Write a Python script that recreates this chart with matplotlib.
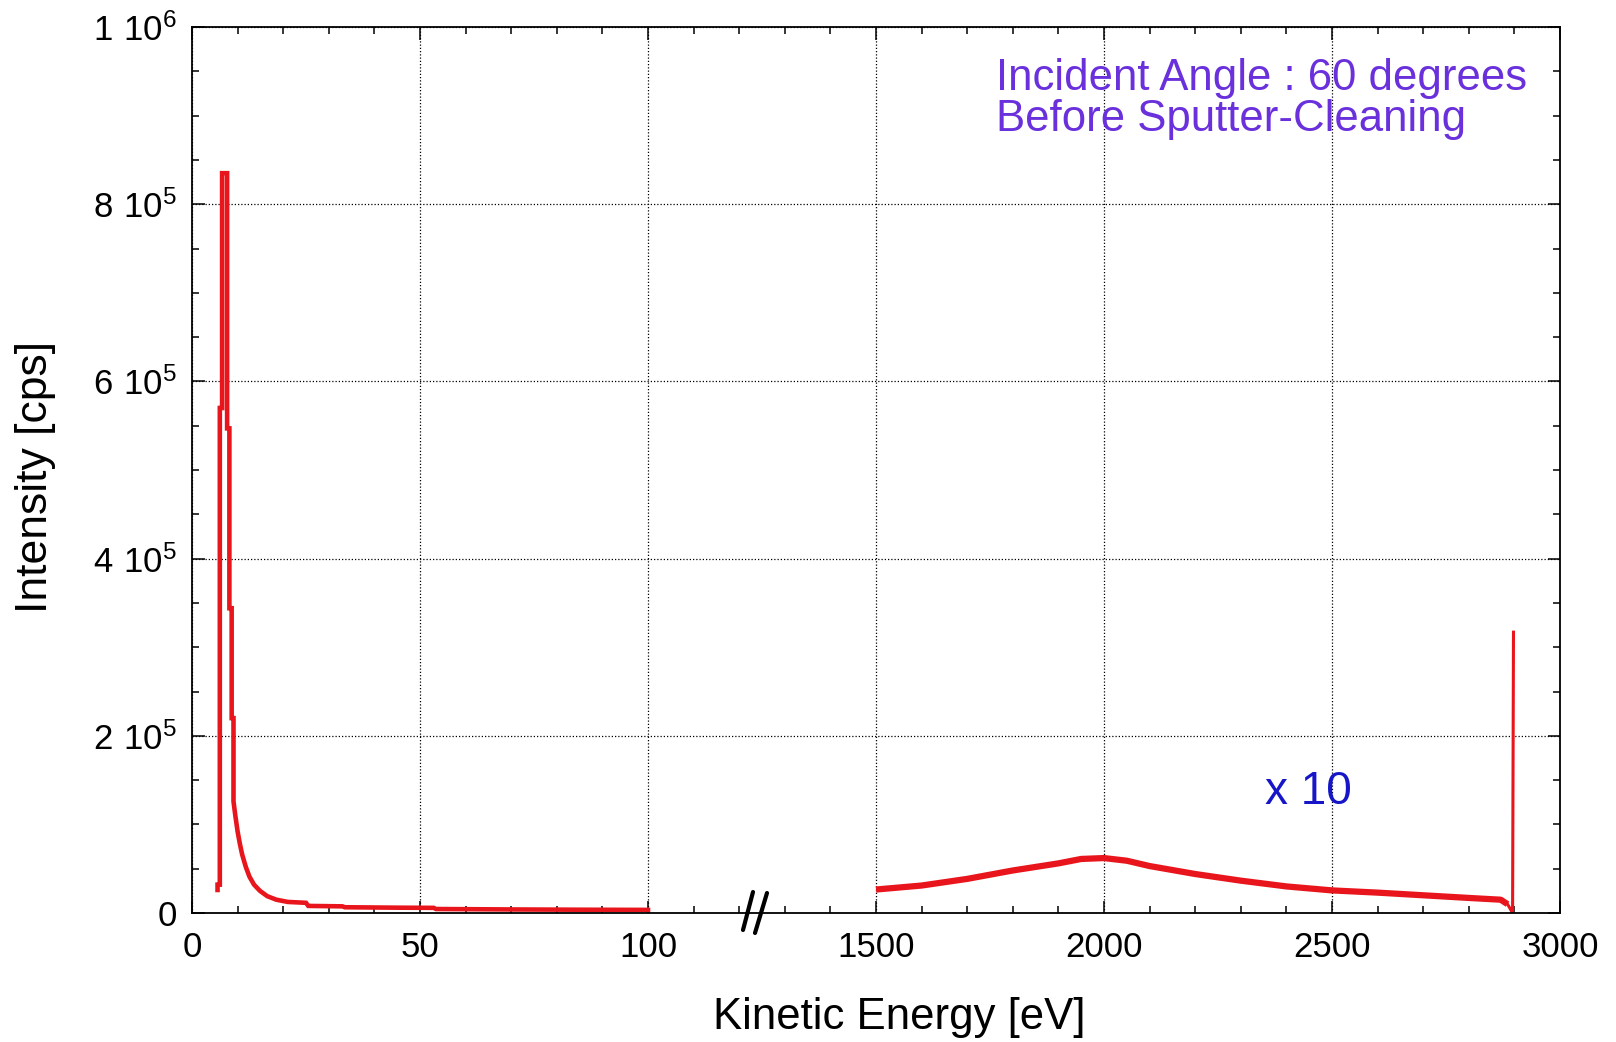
import numpy as np
import matplotlib
matplotlib.use("Agg")
import matplotlib.pyplot as plt
from matplotlib.ticker import FixedLocator, FixedFormatter

# low energy part (secondary electron peak), eV / cps
E_low = [5.6, 5.6, 6.1, 6.1, 6.6, 6.6, 7.7, 7.7, 8.2, 8.2, 8.7, 8.7, 9.1, 9.1,
         9.5, 10.0, 10.5, 11.0, 11.8, 12.6, 13.6, 14.9, 16.5, 18.5, 21, 25,
         25.5, 33, 33.5, 45, 53, 53.5, 70, 85, 100]
I_low = [2.6e4, 3.2e4, 3.2e4, 5.7e5, 5.7e5, 8.35e5, 8.35e5, 5.47e5, 5.47e5,
         3.44e5, 3.44e5, 2.2e5, 2.2e5, 1.26e5, 1.1e5, 0.92e5, 0.78e5, 0.66e5,
         0.52e5, 0.41e5, 0.32e5, 0.25e5, 0.19e5, 0.15e5, 0.125e5, 0.115e5,
         0.08e5, 0.075e5, 0.065e5, 0.06e5, 0.058e5, 0.045e5, 0.04e5, 0.037e5,
         0.035e5]

# high energy part (x10)
E_high = [1500, 1600, 1700, 1800, 1900, 1950, 2000, 2050, 2100, 2200, 2300,
          2400, 2500, 2600, 2700, 2800, 2870, 2885]
I_high = [2.65e4, 3.1e4, 3.85e4, 4.8e4, 5.6e4, 6.1e4, 6.2e4, 5.9e4, 5.3e4,
          4.4e4, 3.65e4, 3.0e4, 2.55e4, 2.3e4, 2.0e4, 1.7e4, 1.5e4, 1.0e4]

# elastic peak
E_el = [2885, 2896, 2898]
I_el = [1.0e4, 0.0, 3.17e5]

xticks = [0, 50, 100, 1500, 2000, 2500, 3000]
xticklabels = ['0', '50', '100', '1500', '2000', '2500', '3000']
yticks = [0, 2e5, 4e5, 6e5, 8e5, 1e6]
yticklabels = ['0', r'$\mathregular{2\ 10^{5}}$', r'$\mathregular{4\ 10^{5}}$',
               r'$\mathregular{6\ 10^{5}}$', r'$\mathregular{8\ 10^{5}}$',
               r'$\mathregular{1\ 10^{6}}$']

brk_data = [0, 100, 1500, 3000]
brk_pos = [0, 2, 3, 6]


def fwd(x):
    return np.interp(x, brk_data, brk_pos)


def inv(p):
    return np.interp(p, brk_pos, brk_data)


plt.rcParams['font.family'] = ['Liberation Sans', 'DejaVu Sans']
plt.rcParams['mathtext.fontset'] = 'custom'
plt.rcParams['mathtext.rm'] = 'Liberation Sans'
W, H = 1616, 1042
fig = plt.figure(figsize=(W / 100, H / 100), dpi=100)
ax = fig.add_axes([192 / W, 1 - 913 / H, (1560 - 192) / W, (913 - 27) / H])
ax.set_xscale('function', functions=(fwd, inv))
ax.set_xlim(0, 3000)
ax.set_ylim(0, 1e6)

red = '#e8161c'
ax.plot(E_low, I_low, color=red, lw=3.3, solid_joinstyle='miter')
ax.plot(E_high, I_high, color=red, lw=4.5, solid_capstyle='butt')
ax.plot(E_el, I_el, color=red, lw=2.2)

ax.xaxis.set_major_locator(FixedLocator(xticks))
ax.xaxis.set_major_formatter(FixedFormatter(xticklabels))
minx = [10, 20, 30, 40, 60, 70, 80, 90, 380, 660, 940, 1220]
minx += [e for e in range(1600, 3000, 100) if e % 500 != 0]
ax.xaxis.set_minor_locator(FixedLocator(minx))
ax.yaxis.set_major_locator(FixedLocator(yticks))
ax.yaxis.set_major_formatter(FixedFormatter(yticklabels))
ax.yaxis.set_minor_locator(FixedLocator([y for y in np.arange(5e4, 1e6, 5e4)
                                         if y % 2e5 != 0]))

ax.tick_params(which='both', direction='in', top=True, right=True,
               width=1.1, colors='black')
ax.tick_params(which='major', length=9, labelsize=25)
ax.tick_params(axis='x', which='major', pad=13)
ax.tick_params(axis='y', which='major', pad=11)
ax.tick_params(which='minor', length=5)
for s in ax.spines.values():
    s.set_linewidth(1.3)

ax.grid(True, which='major', color='black', lw=0.9, linestyle=(0, (1, 1.6)))

ax.set_xlabel('Kinetic Energy [eV]', fontsize=31.5)
ax.set_ylabel('Intensity [cps]', fontsize=32)
ax.xaxis.set_label_coords((899 - 192) / (1560 - 192), -(1018 - 913) / 886)
ax.yaxis.set_label_coords(-(192 - 36) / 1368, (913 - 477) / 886)
ax.xaxis.label.set_va('center')
ax.yaxis.label.set_va('center')

# axis break mark
for x0, x1, y0, y1 in [(743, 753, 930, 892), (755, 767, 933, 893)]:
    fig.add_artist(plt.Line2D([x0 / W, x1 / W], [1 - y0 / H, 1 - y1 / H],
                              color='black', lw=3, solid_capstyle='round'))

fig.text(996 / W, 1 - 90 / H, 'Incident Angle : 60 degrees', fontsize=31.5,
         color='#6a30dc', ha='left', va='baseline')
fig.text(996 / W, 1 - 131 / H, 'Before Sputter-Cleaning', fontsize=31.5,
         color='#6a30dc', ha='left', va='baseline')
fig.text(1265 / W, 1 - 804 / H, 'x 10', fontsize=33, color='#1616c8',
         ha='left', va='baseline')

fig.savefig('out.png', dpi=100)
